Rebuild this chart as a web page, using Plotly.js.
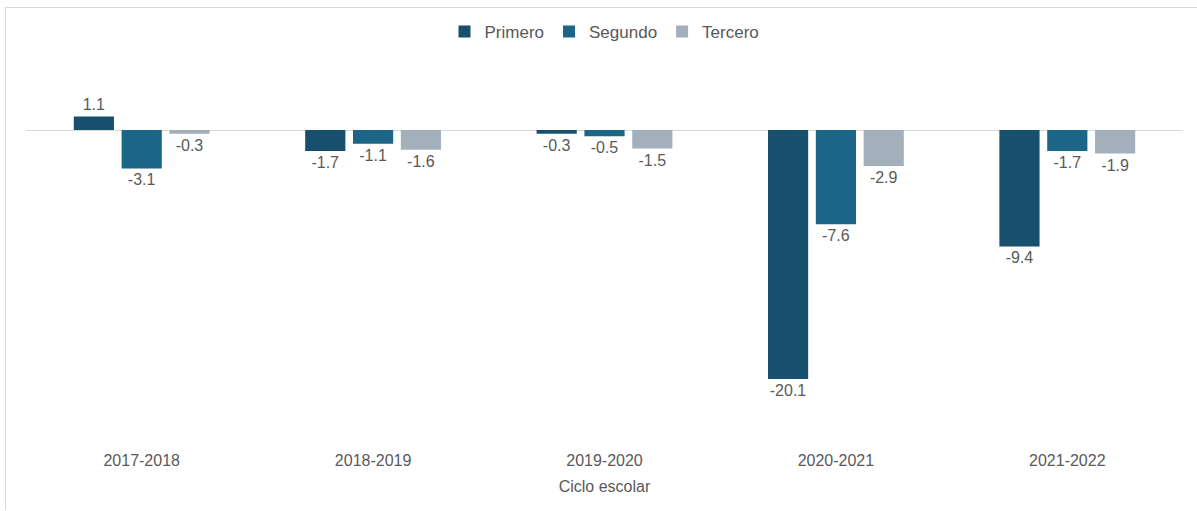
<!DOCTYPE html>
<html>
<head>
<meta charset="utf-8">
<script src="https://cdn.plot.ly/plotly-3.0.1.min.js"></script>
<style>
html,body{margin:0;padding:0;background:#fff;}
#frame{position:absolute;left:5px;top:7px;width:1192px;height:503px;border-left:1px solid #d9d9d9;border-top:1px solid #d9d9d9;box-sizing:border-box;}
#chart{position:absolute;left:0;top:0;width:1197px;height:511px;}
</style>
</head>
<body>
<div id="frame"></div>
<div id="chart"></div>
<script>
const categories = ["2017-2018","2018-2019","2019-2020","2020-2021","2021-2022"];
const primero = [1.1,-1.7,-0.3,-20.1,-9.4];
const segundo = [-3.1,-1.1,-0.5,-7.6,-1.7];
const tercero = [-0.3,-1.6,-1.5,-2.9,-1.9];
const seriesNames = ["Primero","Segundo","Tercero"];
const colors = ["#174f6d","#1b6586","#a3afbb"];
const vals = [primero, segundo, tercero];

const traces = vals.map((v,i)=>({
  type:'bar', name:seriesNames[i], x:categories, y:v,
  marker:{color:colors[i]},
  text:v.map(d=>d.toFixed(1)), textposition:'outside', cliponaxis:false,
  textfont:{family:'Liberation Sans, Arial, sans-serif', size:16, color:'#595959'},
  hoverinfo:'none'
}));

const layout = {
  width:1197, height:511,
  margin:{l:26,r:14,t:60,b:66, autoexpand:false},
  paper_bgcolor:'rgba(0,0,0,0)', plot_bgcolor:'rgba(0,0,0,0)',
  barmode:'group', bargap:0.38, bargroupgap:0.16,
  font:{family:'Liberation Sans, Arial, sans-serif', color:'#595959'},
  showlegend:true,
  legend:{orientation:'h', x:0.5, xanchor:'center', y:1.073, yanchor:'middle',
          font:{size:17,color:'#595959'}, itemwidth:30, tracegroupgap:0},
  xaxis:{type:'category', showgrid:false, showline:false, zeroline:false, ticks:'',
         automargin:false, ticklabelstandoff:4,
         tickfont:{size:16,color:'#595959'},
         title:{text:'Ciclo escolar', font:{size:16,color:'#595959'}, standoff:12}},
  yaxis:{range:[-25.42,5.65], visible:true, showticklabels:false, showgrid:false,
         automargin:false,
         zeroline:true, zerolinecolor:'#d9d9d9', zerolinewidth:1, ticks:''}
};
Plotly.newPlot('chart', traces, layout, {displayModeBar:false, staticPlot:true});
</script>
</body>
</html>
